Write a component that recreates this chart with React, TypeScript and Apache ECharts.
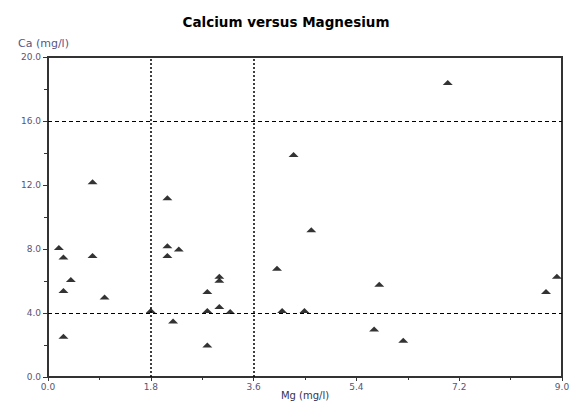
import React, { useEffect, useRef } from "react";
import * as echarts from "echarts";

const titleText = "Calcium versus Magnesium";
const xName = "Mg (mg/l)";
const yName = "Ca (mg/l)";

const mgValues = [
  0.78, 2.09, 0.19, 0.27, 0.78, 2.09, 2.29, 2.09, 0.4, 0.27, 3.0, 3.0, 0.99, 2.79,
  1.8, 2.79, 3.0, 3.19, 2.19, 0.27, 2.79, 7.0, 4.3, 4.61, 4.01, 5.8, 8.72, 8.91,
  4.1, 4.49, 5.71, 6.22,
];
const caValues = [
  12.2, 11.2, 8.1, 7.5, 7.6, 8.2, 8.0, 7.6, 6.1, 5.4, 6.3, 6.05, 5.0, 5.35,
  4.15, 4.15, 4.4, 4.1, 3.5, 2.55, 2.0, 18.4, 13.9, 9.2, 6.8, 5.8, 5.35, 6.3,
  4.15, 4.15, 3.0, 2.3,
];
const hRefLines = [4, 16];
const vRefLines = [1.8, 3.6];

export default function App() {
  const ref = useRef<HTMLDivElement>(null);
  useEffect(() => {
    if (!ref.current) return;
    const chart = echarts.init(ref.current, undefined, { renderer: "svg" });
    const points = mgValues.map((m, i) => [m, caValues[i]]);
    chart.setOption({
      animation: false,
      backgroundColor: "#ffffff",
      title: {
        text: titleText,
        left: "center",
        top: 10,
        textStyle: {
          fontFamily: "DejaVu Sans",
          fontWeight: "bold",
          fontSize: 13.5,
          color: "#000000",
        },
      },
      grid: {
        left: 48,
        right: 10,
        top: 57,
        bottom: 27,
        show: true,
        borderColor: "#333333",
        borderWidth: 2,
        outerBoundsMode: "none",
        containLabel: false,
      },
      xAxis: {
        type: "value",
        min: 0,
        max: 9,
        interval: 1.8,
        name: xName,
        nameLocation: "middle",
        nameGap: 13,
        nameMoveOverlap: false,
        nameTextStyle: {
          fontFamily: "DejaVu Sans",
          fontSize: 10,
          lineHeight: 11,
          color: "#333355",
        },
        axisLine: { show: true, onZero: false, lineStyle: { color: "#333333", width: 2 } },
        axisTick: { show: true, length: 4, lineStyle: { color: "#333333" } },
        minorTick: { show: true, splitNumber: 2, length: 3, lineStyle: { color: "#333333" } },
        splitLine: { show: false },
        axisLabel: {
          formatter: (v: number) => v.toFixed(1),
          fontFamily: "DejaVu Sans",
          fontSize: 9,
          color: "#555577",
          margin: 5,
        },
      },
      yAxis: {
        type: "value",
        min: 0,
        max: 20,
        interval: 4,
        name: yName,
        nameLocation: "end",
        nameGap: 8,
        nameTextStyle: {
          fontFamily: "DejaVu Sans",
          fontSize: 11,
          color: "#555588",
          align: "left",
          padding: [0, 0, 0, -30],
        },
        axisLine: { show: true, onZero: false, lineStyle: { color: "#333333", width: 2 } },
        axisTick: { show: true, length: 5, lineStyle: { color: "#333333" } },
        minorTick: { show: true, splitNumber: 2, length: 4, lineStyle: { color: "#333333" } },
        splitLine: { show: false },
        axisLabel: {
          formatter: (v: number) => v.toFixed(1),
          fontFamily: "DejaVu Sans",
          fontSize: 9,
          color: "#555577",
          margin: 7,
        },
      },
      series: [
        {
          type: "scatter",
          data: points,
          symbol: "triangle",
          symbolSize: [10, 5],
          itemStyle: { color: "#000000" },
          z: 5,
          markLine: {
            silent: true,
            symbol: "none",
            label: { show: false },
            data: [
              ...hRefLines.map((y) => ({
                yAxis: y,
                lineStyle: { color: "#000000", width: 1, type: [4, 3] },
              })),
              ...vRefLines.map((x) => ({
                xAxis: x,
                lineStyle: { color: "#000000", width: 1.5, type: [2, 2] },
              })),
            ],
          },
        },
      ],
    });
    return () => chart.dispose();
  }, []);
  return (
    <div
      ref={ref}
      style={{ position: "fixed", left: 0, top: 0, width: 572, height: 404 }}
    />
  );
}
